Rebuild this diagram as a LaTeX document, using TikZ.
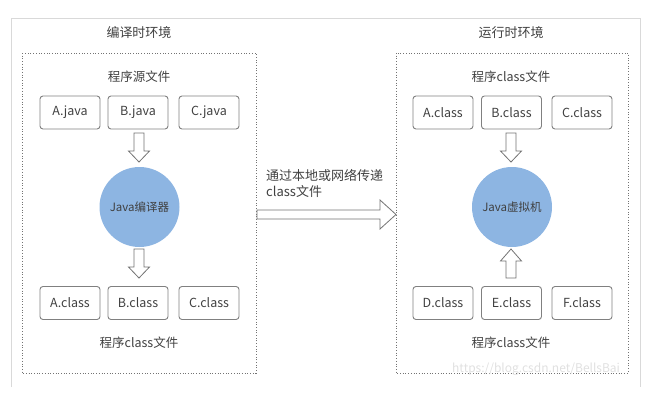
\documentclass[tikz,border=0pt]{standalone}
\usepackage{fontspec}
\setmainfont{Noto Sans CJK SC}
\begin{document}
\begin{tikzpicture}[x=1pt,y=-1pt,
  txt/.style={text=black!75, font=\fontsize{12.5}{14}\selectfont, inner sep=0pt},
  title/.style={text=black!75, font=\fontsize{13}{15}\selectfont, inner sep=0pt},
  filebox/.style={draw=black!50, line width=0.9pt, rounded corners=3pt, minimum width=60pt, minimum height=33pt, inner sep=0pt, text=black!75, font=\fontsize{12.5}{14}\selectfont},
  envbox/.style={draw=black!55, dotted, line width=0.7pt},
  engine/.style={circle, fill={rgb,255:red,141;green,181;blue,226}, minimum size=80pt, inner sep=0pt, text=black!75, font=\fontsize{11.5}{13}\selectfont},
  blockarr/.style={draw=black!55, fill=white, line width=0.8pt, line join=miter},
  frame/.style={draw=black!15, line width=0.8pt}
]
\useasboundingbox (0,0) rectangle (657,407);
% outer frame (top, left, right)
\draw[frame] (11,387) -- (11,18) -- (640,18) -- (640,387);

% environments
\draw[envbox] (22,53) rectangle (256,373);
\draw[envbox] (396,53) rectangle (628,373);
\node[title] (t1) at (139,33) {编译时环境};
\node[title] (t2) at (511,33) {运行时环境};

% left side
\node[txt] (l1) at (139,77) {程序源文件};
\node[filebox] (aj) at (70,112.5) {A.java};
\node[filebox] (bj) at (138,112.5) {B.java};
\node[filebox] (cj) at (209,112.5) {C.java};
\node[engine] (comp) at (139.5,207) {Java编译器};
\node[filebox] (ac) at (70,303) {A.class};
\node[filebox] (bc) at (138,303) {B.class};
\node[filebox] (cc) at (209,303) {C.class};
\node[txt] (l2) at (139,343) {程序class文件};

% right side
\node[txt] (r1) at (511,77) {程序class文件};
\node[filebox] (ra) at (443,112.5) {A.class};
\node[filebox] (rb) at (511.5,112.5) {B.class};
\node[filebox] (rc) at (582,112.5) {C.class};
\node[engine] (jvm) at (512,207) {Java虚拟机};
\node[filebox] (rd) at (443,303) {D.class};
\node[filebox] (re) at (511.5,303) {E.class};
\node[filebox] (rf) at (582,303) {F.class};
\node[txt] (r2) at (511,343) {程序class文件};

% block arrows (vertical)
% left down 1
\draw[blockarr] (134,133) -- (144,133) -- (144,151) -- (149.5,151) -- (139,162) -- (128.5,151) -- (134,151) -- cycle;
% left down 2
\draw[blockarr] (134,249) -- (144,249) -- (144,267) -- (149.5,267) -- (139,278) -- (128.5,267) -- (134,267) -- cycle;
% right down
\draw[blockarr] (506,133) -- (516,133) -- (516,151) -- (521.5,151) -- (511,162) -- (500.5,151) -- (506,151) -- cycle;
% right up
\draw[blockarr] (506,278) -- (516,278) -- (516,261) -- (521.5,261) -- (511,249) -- (500.5,261) -- (506,261) -- cycle;

% middle transfer arrow
\draw[blockarr] (257,210) -- (380,210) -- (380,200) -- (396,214.5) -- (380,229) -- (380,219) -- (257,219) -- cycle;
\node[txt, font=\fontsize{13}{15}\selectfont, anchor=west, align=left] (mid) at (266,183) {通过本地或网络传递\\[1pt]class文件};

% watermark
\node[text=black!12, font=\fontsize{12}{14}\selectfont, anchor=west, inner sep=0pt] (wm) at (452,369) {https://blog.csdn.net/BellsBai};
\end{tikzpicture}
\end{document}
